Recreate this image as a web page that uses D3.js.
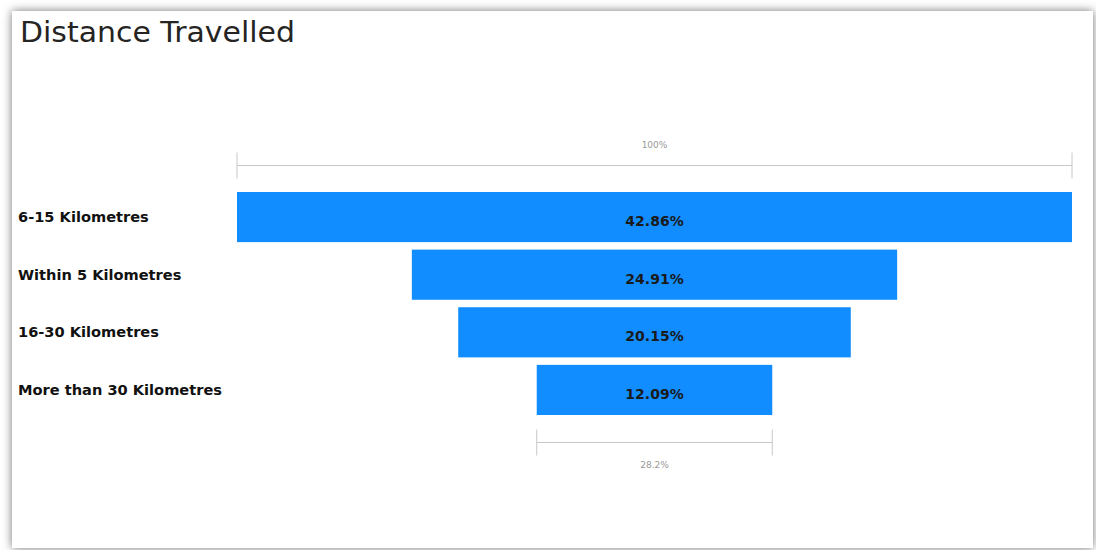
<!DOCTYPE html>
<html>
<head>
<meta charset="utf-8">
<script src="https://cdn.jsdelivr.net/npm/d3@7"></script>
<style>
  body { margin: 0; background: #fff; }
  svg { display: block; }
</style>
</head>
<body>
<div id="chart"></div>
<script>
var categories = ["6-15 Kilometres", "Within 5 Kilometres", "16-30 Kilometres", "More than 30 Kilometres"];
var values = [42.86, 24.91, 20.15, 12.09];
var topLabel = "100%";
var bottomLabel = "28.2%";

var width = 1096, height = 550;
var svg = d3.select("#chart").append("svg")
    .attr("width", width)
    .attr("height", height);

// card shadow
var defs = svg.append("defs");
var f = defs.append("filter").attr("id", "shadow")
    .attr("x", "-5%").attr("y", "-5%").attr("width", "110%").attr("height", "110%");
f.append("feGaussianBlur").attr("in", "SourceAlpha").attr("stdDeviation", 5).attr("result", "b");
f.append("feFlood").attr("flood-color", "#000").attr("flood-opacity", 0.55);
f.append("feComposite").attr("in2", "b").attr("operator", "in").attr("result", "s");
var m = f.append("feMerge");
m.append("feMergeNode").attr("in", "s");
m.append("feMergeNode").attr("in", "SourceGraphic");

svg.append("rect")
    .attr("x", 12).attr("y", 11)
    .attr("width", 1081).attr("height", 537)
    .attr("fill", "#fff")
    .attr("filter", "url(#shadow)");

svg.append("text")
    .attr("x", 20).attr("y", 42)
    .attr("font-family", "'DejaVu Sans', sans-serif")
    .attr("font-size", 28)
    .attr("textLength", 275)
    .attr("lengthAdjust", "spacingAndGlyphs")
    .attr("fill", "#252423")
    .text("Distance Travelled");

var cx = 654.5;
var x = d3.scaleLinear()
    .domain([0, d3.max(values)])
    .range([0, 835]);

var y = d3.scaleBand()
    .domain(categories)
    .range([192, 415])
    .paddingInner(0.13)
    .paddingOuter(0);

var g = svg.append("g");

g.selectAll("rect.bar")
    .data(values)
    .enter()
    .append("rect")
    .attr("class", "bar")
    .attr("x", d => cx - x(d) / 2)
    .attr("y", (d, i) => y(categories[i]))
    .attr("width", d => x(d))
    .attr("height", y.bandwidth())
    .attr("fill", "#118DFF");

g.selectAll("text.val")
    .data(values)
    .enter()
    .append("text")
    .attr("x", cx)
    .attr("y", (d, i) => y(categories[i]) + y.bandwidth() / 2 + 9)
    .attr("text-anchor", "middle")
    .attr("font-family", "'DejaVu Sans', sans-serif")
    .attr("font-weight", "bold")
    .attr("font-size", 14)
    .attr("fill", "#1a1a1a")
    .text(d => d.toFixed(2) + "%");

g.selectAll("text.cat")
    .data(categories)
    .enter()
    .append("text")
    .attr("x", 18)
    .attr("y", d => y(d) + y.bandwidth() / 2 + 5)
    .attr("font-family", "'DejaVu Sans', sans-serif")
    .attr("font-weight", "bold")
    .attr("font-size", 14.6)
    .attr("fill", "#111")
    .text(d => d);

// brackets
function bracket(v, ly, labelY, label) {
  var x0 = cx - x(v) / 2, x1 = cx + x(v) / 2;
  var b = svg.append("g").attr("stroke", "#c8c8c8").attr("stroke-width", 1);
  b.append("line").attr("x1", x0).attr("x2", x1).attr("y1", ly).attr("y2", ly);
  b.append("line").attr("x1", x0).attr("x2", x0).attr("y1", ly - 13).attr("y2", ly + 13);
  b.append("line").attr("x1", x1).attr("x2", x1).attr("y1", ly - 13).attr("y2", ly + 13);
  svg.append("text")
    .attr("x", cx).attr("y", labelY)
    .attr("text-anchor", "middle")
    .attr("font-family", "'DejaVu Sans', sans-serif")
    .attr("font-size", 9)
    .attr("fill", "#999")
    .text(label);
}
bracket(values[0], 165.5, 148, topLabel);
bracket(values[values.length - 1], 442.5, 468, bottomLabel);
</script>
</body>
</html>
